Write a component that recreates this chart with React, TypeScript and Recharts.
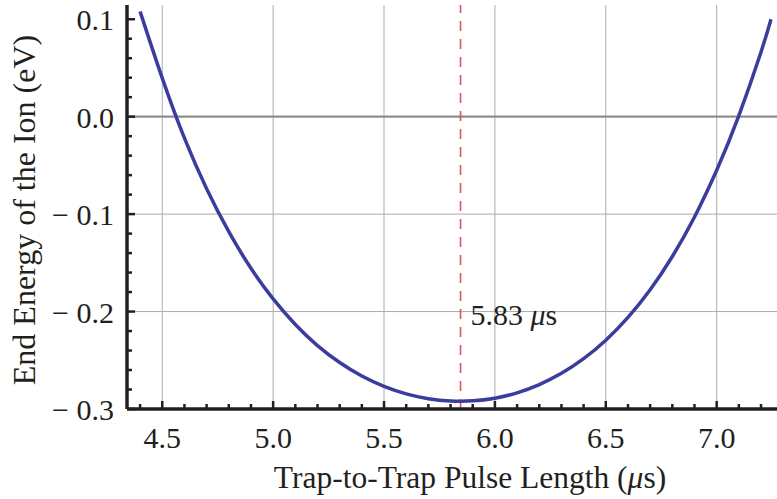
import { LineChart, Line, XAxis, YAxis, CartesianGrid, ReferenceLine } from "recharts";

// pulse length (µs) and end energy (eV)
const pulseLength = [
  4.4, 4.5, 4.6, 4.7, 4.8, 4.9, 5.0, 5.1, 5.2, 5.3, 5.4, 5.5, 5.6, 5.7, 5.8,
  5.9, 6.0, 6.1, 6.2, 6.3, 6.4, 6.5, 6.6, 6.7, 6.8, 6.9, 7.0, 7.1, 7.2, 7.245,
];
const endEnergy = [
  0.108, 0.0395, -0.0221, -0.0739, -0.118, -0.1556, -0.187, -0.2132, -0.2349, -0.2523,
  -0.2662, -0.2768, -0.2845, -0.2894, -0.2917, -0.2916, -0.2889, -0.2834, -0.2749, -0.2634,
  -0.2484, -0.2294, -0.206, -0.1776, -0.1435, -0.1029, -0.055, 0.0011, 0.0664, 0.1,
];

const xMajorTicks = [4.5, 5.0, 5.5, 6.0, 6.5, 7.0];
const yMajorTicks = [0.1, 0.0, -0.1, -0.2, -0.3];
const xMinorTicks = Array.from({ length: 29 }, (_, i) => Math.round((4.4 + i * 0.1) * 10) / 10);
const yMinorTicks = Array.from({ length: 21 }, (_, i) => Math.round((-0.3 + i * 0.02) * 100) / 100);

const optimumPulse = 5.845;
const optimumLabel = "5.83";

const data = pulseLength.map((t, i) => ({ t, e: endEnergy[i] }));

const FONT = "'Liberation Serif', 'Times New Roman', serif";
const INK = "#231f20";
const isMajor = (list: number[], v: number) => list.some((m) => Math.abs(m - v) < 1e-6);

const fmtY = (v: number) => (v < 0 ? "\u2212 " + Math.abs(v).toFixed(1) : v.toFixed(1));

const textStyle = { fontFamily: FONT, fontSize: 30, fill: INK, fontWeight: 400 };

function BottomTick({ x, y, payload }: any) {
  const major = isMajor(xMajorTicks, payload.value);
  return (
    <g>
      <line x1={x} x2={x} y1={y} y2={y - (major ? 8 : 5)} stroke={INK} strokeWidth={2.5} />
      {major && (
        <text x={x} y={y + 39} textAnchor="middle" fontFamily={FONT} style={textStyle}>
          {payload.value.toFixed(1)}
        </text>
      )}
    </g>
  );
}

function TopTick({ x, y, payload }: any) {
  const major = isMajor(xMajorTicks, payload.value);
  return <line x1={x} x2={x} y1={y} y2={y + (major ? 8 : 5)} stroke={INK} strokeWidth={2.5} />;
}

function LeftTick({ x, y, payload }: any) {
  const major = isMajor(yMajorTicks, payload.value);
  return (
    <g>
      <line x1={x} x2={x + (major ? 8 : 5)} y1={y} y2={y} stroke={INK} strokeWidth={2.5} />
      {major && (
        <text x={x - 13} y={y + 11} textAnchor="end" fontFamily={FONT} style={textStyle}>
          {fmtY(payload.value)}
        </text>
      )}
    </g>
  );
}

export default function App() {
  return (
    <div style={{ position: "absolute", left: 0, top: 0, background: "#fff", fontFamily: FONT }}>
      <LineChart width={777} height={499} data={data} margin={{ top: 5, right: 0, bottom: 0, left: 0 }}>
        <CartesianGrid
          stroke="#acacac"
          strokeWidth={1}
          verticalValues={xMajorTicks}
          horizontalValues={[-0.1, -0.2]}
        />
        <XAxis
          dataKey="t"
          type="number"
          domain={[4.341, 7.272]}
          ticks={xMinorTicks}
          interval={0}
          tickSize={0}
          tickMargin={0}
          height={90}
          tick={<BottomTick />}
          axisLine={{ stroke: INK, strokeWidth: 3.5 }}
          allowDataOverflow
          label={{
            content: () => (
              <text x={470} y={488} textAnchor="middle" style={{ ...textStyle, fontSize: 31.5 }}>
                Trap-to-Trap Pulse Length (<tspan fontStyle="italic">μ</tspan>s)
              </text>
            ),
          }}
        />
        <XAxis
          xAxisId="top"
          orientation="top"
          dataKey="t"
          type="number"
          domain={[4.341, 7.272]}
          ticks={xMinorTicks}
          interval={0}
          tickSize={0}
          tickMargin={0}
          height={0}
          tick={<TopTick />}
          axisLine={{ stroke: INK, strokeWidth: 4 }}
          allowDataOverflow
        />
        <YAxis
          type="number"
          domain={[-0.3, 0.1146]}
          ticks={yMinorTicks}
          interval={0}
          tickSize={0}
          tickMargin={0}
          width={127}
          tick={<LeftTick />}
          axisLine={{ stroke: INK, strokeWidth: 3.5 }}
          allowDataOverflow
          label={{
            content: () => (
              <text
                x={35}
                y={210}
                transform="rotate(-90, 35, 210)"
                textAnchor="middle"
                style={{ ...textStyle, fontSize: 32 }}
              >
                End Energy of the Ion (eV)
              </text>
            ),
          }}
        />
        <ReferenceLine y={0} stroke="#8e8e8e" strokeWidth={2.2} />
        <ReferenceLine
          x={optimumPulse}
          stroke="#e4525d"
          strokeWidth={1.6}
          strokeDasharray="10 8"
          label={{
            content: (p: any) => (
              <text x={p.viewBox.x + 10} y={325} fontFamily={FONT} style={textStyle}>
                {optimumLabel} <tspan fontStyle="italic">μ</tspan>s
              </text>
            ),
          }}
        />
        <Line
          dataKey="e"
          type="natural"
          stroke="#3a3d9c"
          strokeWidth={3.5}
          dot={false}
          activeDot={false}
          isAnimationActive={false}
        />
      </LineChart>
    </div>
  );
}
